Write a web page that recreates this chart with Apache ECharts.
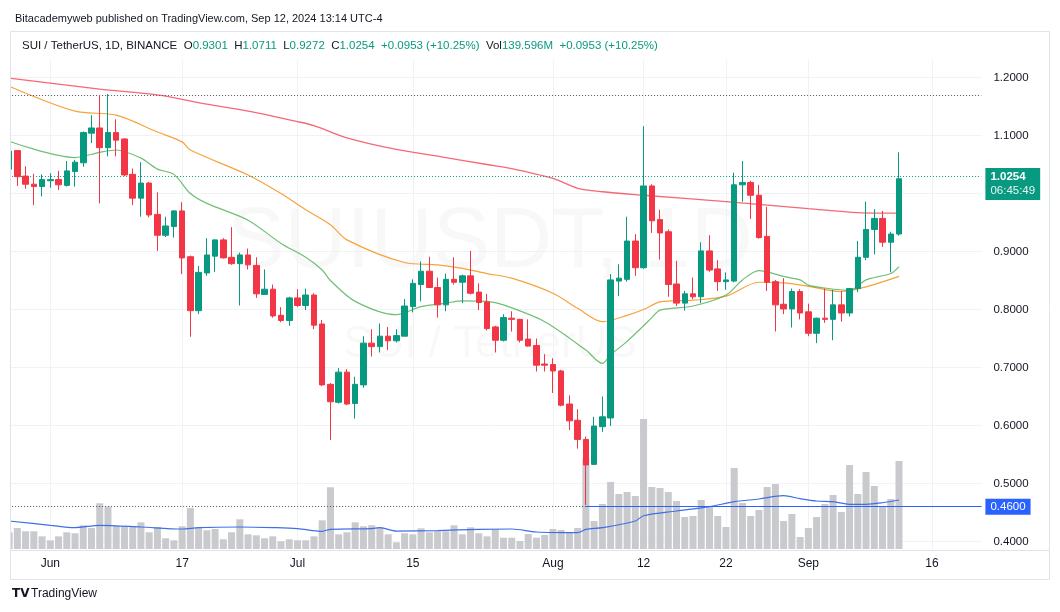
<!DOCTYPE html>
<html><head><meta charset="utf-8">
<script src="https://cdn.jsdelivr.net/npm/echarts/dist/echarts.min.js"></script>
<style>html,body{margin:0;padding:0;background:#fff}#c{width:1060px;height:612px}</style>
</head><body><div id="c"></div>
<script>
// ---------- DATA ----------
const MONTHS = ['Jan','Feb','Mar','Apr','May','Jun','Jul','Aug','Sep','Oct','Nov','Dec'];
const firstDay = Date.UTC(2024, 4, 27);   // May 27, 2024
const dayCount = 119;                     // May 27 .. Sep 22 (axis span, last candle Sep 12)
const categories = [];
for (let i = 0; i < dayCount; i++) { const d = new Date(firstDay + i * 86400000); categories.push(MONTHS[d.getUTCMonth()] + ' ' + d.getUTCDate()); }

const tickDates  = ['Jun 1','Jun 17','Jul 1','Jul 15','Aug 1','Aug 12','Aug 22','Sep 1','Sep 16'];
const tickLabels = ['Jun','17','Jul','15','Aug','12','22','Sep','16'];
const priceTicks = [0.4, 0.5, 0.6, 0.7, 0.8, 0.9, 1.0, 1.1, 1.2];

const opens = [
 1.042,1.074,1.030,1.016,1.012,1.022,1.024,1.014,1.038,1.053,
 1.104,1.113,1.079,1.105,1.094,1.033,0.992,1.018,0.964,0.928,
 0.943,0.970,0.891,0.798,0.863,0.892,0.920,0.890,0.879,0.894,
 0.876,0.826,0.835,0.790,0.781,0.820,0.807,0.825,0.775,0.671,
 0.640,0.692,0.638,0.670,0.742,0.736,0.754,0.746,0.754,0.805,
 0.843,0.866,0.838,0.808,0.852,0.847,0.858,0.830,0.813,0.770,
 0.747,0.785,0.783,0.749,0.738,0.706,0.705,0.694,0.637,0.609,
 0.576,0.533,0.598,0.613,0.849,0.852,0.918,0.872,1.013,0.955,
 0.934,0.844,0.811,0.827,0.822,0.901,0.870,0.848,0.849,1.015,
 1.019,0.997,0.926,0.848,0.809,0.801,0.831,0.796,0.759,0.785,
 0.783,0.808,0.794,0.836,0.890,0.938,0.957,0.916,0.9301];
const closes = [
 1.073,1.029,1.016,1.012,1.024,1.024,1.015,1.039,1.054,1.105,
 1.113,1.079,1.105,1.092,1.032,0.992,1.018,0.963,0.928,0.944,
 0.970,0.889,0.798,0.864,0.894,0.920,0.889,0.879,0.894,0.877,
 0.827,0.835,0.789,0.781,0.820,0.807,0.825,0.773,0.670,0.641,
 0.692,0.637,0.671,0.742,0.736,0.754,0.746,0.755,0.806,0.845,
 0.866,0.838,0.808,0.852,0.847,0.858,0.828,0.812,0.767,0.747,
 0.786,0.783,0.747,0.737,0.704,0.704,0.694,0.635,0.608,0.576,
 0.532,0.599,0.615,0.851,0.854,0.918,0.872,1.013,0.953,0.932,
 0.843,0.811,0.827,0.822,0.901,0.868,0.848,0.851,1.015,1.019,
 0.997,0.924,0.847,0.808,0.801,0.831,0.794,0.759,0.785,0.783,
 0.808,0.794,0.836,0.890,0.938,0.957,0.916,0.9301,1.0254];
const lows = [
 1.038,1.013,1.008,0.980,0.995,1.010,1.006,1.012,1.012,1.046,
 1.087,0.983,1.064,1.064,1.030,0.980,0.960,0.959,0.901,0.925,
 0.924,0.861,0.753,0.792,0.858,0.865,0.888,0.877,0.807,0.869,
 0.820,0.825,0.786,0.778,0.772,0.804,0.799,0.766,0.668,0.575,
 0.638,0.635,0.612,0.665,0.719,0.726,0.730,0.743,0.754,0.795,
 0.814,0.837,0.786,0.797,0.843,0.811,0.826,0.799,0.764,0.726,
 0.745,0.762,0.743,0.736,0.693,0.693,0.656,0.633,0.592,0.560,
 0.463,0.532,0.589,0.599,0.823,0.848,0.858,0.870,0.932,0.886,
 0.822,0.806,0.798,0.818,0.811,0.865,0.832,0.834,0.847,0.986,
 0.956,0.922,0.832,0.762,0.792,0.769,0.783,0.754,0.742,0.777,
 0.747,0.779,0.788,0.830,0.885,0.895,0.908,0.864,0.9272];
const highs = [
 1.078,1.075,1.047,1.034,1.033,1.035,1.039,1.056,1.058,1.107,
 1.135,1.170,1.1716,1.128,1.095,1.043,1.054,1.020,1.002,0.960,
 0.971,0.985,0.893,0.875,0.923,0.921,0.923,0.942,0.898,0.905,
 0.890,0.869,0.843,0.804,0.822,0.835,0.836,0.828,0.782,0.673,
 0.699,0.697,0.684,0.754,0.766,0.776,0.770,0.766,0.818,0.852,
 0.883,0.891,0.855,0.862,0.890,0.860,0.901,0.845,0.827,0.772,
 0.792,0.797,0.784,0.783,0.750,0.723,0.716,0.696,0.652,0.628,
 0.581,0.615,0.650,0.861,0.878,0.960,0.930,1.116,1.016,0.972,
 0.938,0.884,0.832,0.855,0.916,0.928,0.885,0.864,1.036,1.056,
 1.022,1.015,0.977,0.851,0.854,0.836,0.835,0.810,0.786,0.836,
 0.834,0.832,0.837,0.918,0.986,0.973,0.970,0.934,1.0711];
// volume, millions
const volumes = [
 26.5,33.3,28.1,28.1,20.1,13.8,20.1,26.5,24.9,37.6,
 33.3,72.5,67.1,36.5,34.9,34.9,42.3,26.5,34.9,17.0,
 13.8,36.0,65.0,33.3,29.7,31.7,15.4,26.5,47.1,23.3,
 21.7,17.0,20.1,12.2,15.4,13.8,13.8,20.1,45.5,97.9,
 23.3,26.5,42.3,36.0,37.6,34.4,23.3,10.6,24.9,23.3,
 32.8,26.5,28.1,28.1,37.6,23.3,34.4,24.9,20.1,30.9,
 17.9,17.9,12.7,23.8,17.9,22.2,31.7,30.1,25.9,33.3,
 143.9,44.4,71.4,106.3,87.2,90.4,84.1,206.2,98.3,96.7,
 90.4,76.1,50.8,52.3,77.7,66.6,52.3,34.9,128.5,73.0,
 52.3,61.9,98.3,103.1,44.4,55.5,19.0,33.3,50.8,71.4,
 85.6,58.7,133.2,87.2,122.1,99.9,68.2,79.3,139.596];

// moving averages (day index -> value)
const maRedIdx   = [0,11,18,24,29,35,37,41,47,53,58,61,66,69,72,77,87,97,103,108];
const maRedVal   = [1.199,1.180,1.170,1.154,1.142,1.124,1.117,1.096,1.076,1.062,1.050,1.043,1.026,1.009,1.003,0.997,0.986,0.974,0.967,0.966];
const maOrangeIdx = [0,8,13,18,21,22,29,33,36,39,41,48,52,55,58,61,66,69,72,75,77,79,83,87,91,94,97,101,104,108];
const maOrangeVal = [1.185,1.142,1.135,1.106,1.089,1.075,1.032,1.000,0.972,0.946,0.920,0.881,0.877,0.871,0.862,0.854,0.828,0.802,0.779,0.790,0.800,0.813,0.816,0.823,0.847,0.846,0.840,0.831,0.839,0.857];
const maGreenIdx = [0,8,11,13,16,18,20,22,24,29,33,36,38,39,42,47,50,53,55,58,60,65,70,72,73,75,77,78,79,83,87,89,91,94,96,97,99,102,104,107,108];
const maGreenVal = [1.090,1.062,1.071,1.075,1.061,1.042,1.033,1.000,0.983,0.954,0.914,0.890,0.868,0.850,0.814,0.791,0.805,0.811,0.815,0.814,0.808,0.779,0.730,0.707,0.722,0.745,0.772,0.786,0.799,0.806,0.825,0.851,0.867,0.857,0.851,0.842,0.837,0.833,0.851,0.862,0.874];
const volMaIdx = [0,5,8,11,16,21,23,28,32,35,38,39,44,45,47,52,57,61,64,69,70,72,76,77,81,85,88,91,94,96,98,100,102,104,106,108];
const volMaVal = [44.4,37.6,33.9,37.6,34.9,31.7,33.9,34.9,33.9,32.4,28.1,31.2,32.4,33.9,28.5,29.2,31.2,31.7,27.0,25.9,31.2,33.8,44.4,52.8,60.3,67.1,75.0,79.3,84.5,79.8,76.1,75.0,70.9,70.9,73.4,77.7];

const rayPrice = 0.46, rayStart = 'Aug 5';
const countdown = '06:45:49';

// ---------- BUILD ----------
const UP = '#089981', DOWN = '#f23645', TXT = '#131722', GRID = '#f0f2f5';
const FONT = '"Liberation Sans", Arial, sans-serif';
const n = opens.length;
const candleData = opens.map((o, i) => [o, closes[i], lows[i], highs[i]]);
const volData = volumes.map(v => v);
const pairs = (idx, val) => idx.map((d, k) => [categories[d], val[k]]);
const last = n - 1;
const chg = closes[last] - closes[last - 1];
const pct = chg / closes[last - 1] * 100;
const sign = v => (v >= 0 ? '+' : '') ;
const chgTxt = sign(chg) + chg.toFixed(4) + ' (' + sign(pct) + pct.toFixed(2) + '%)';
const hiAll = Math.max(...highs), loAll = Math.min(...lows);

const isTick = (i, v) => tickDates.indexOf(v) >= 0;
const left = 9.1, right = 78.6;

const chart = echarts.init(document.getElementById('c'), null, {renderer: 'canvas'});
chart.setOption({
  animation: false,
  textStyle: {fontFamily: FONT},
  title: [
    {text: 'Bitacademyweb published on TradingView.com, Sep 12, 2024 13:14 UTC-4', left: 10, top: 8,
     textStyle: {fontSize: 11, fontWeight: 'normal', color: TXT, fontFamily: FONT}},
    {text: '{d|SUI / TetherUS, 1D, BINANCE}  {d|O}{g|' + opens[last].toFixed(4) + '}  {d|H}{g|' + highs[last].toFixed(4) +
           '}  {d|L}{g|' + lows[last].toFixed(4) + '}  {d|C}{g|' + closes[last].toFixed(4) + '}  {g|' + chgTxt +
           '}  {d|Vol}{g|' + volumes[last].toFixed(3) + 'M}  {g|' + chgTxt + '}',
     left: 17, top: 35,
     textStyle: {fontSize: 11.5, fontWeight: 'normal', color: TXT, fontFamily: FONT,
       rich: {d: {color: TXT, fontSize: 11.5, fontFamily: FONT}, g: {color: UP, fontSize: 11.5, fontFamily: FONT}}}}
  ],
  graphic: [
    {type: 'text', z: 0, silent: true, style: {text: 'SUIUSDT, 1D', x: 490, y: 243, textAlign: 'center', textVerticalAlign: 'middle', align: 'center', verticalAlign: 'middle', font: '86px "Liberation Sans", Arial', fill: 'rgba(19,23,34,0.032)'}},
    {type: 'text', z: 0, silent: true, style: {text: 'SUI / TetherUS', x: 490, y: 345, textAlign: 'center', textVerticalAlign: 'middle', align: 'center', verticalAlign: 'middle', font: '44px "Liberation Sans", Arial', fill: 'rgba(19,23,34,0.032)'}},
    {type: 'rect', z: 99, silent: true, shape: {x: 0, y: 50, width: 10, height: 510}, style: {fill: '#ffffff'}},
    {type: 'rect', z: 100, silent: true, shape: {x: 10.5, y: 31.5, width: 1039, height: 548}, style: {fill: 'none', stroke: '#e0e3eb', lineWidth: 1}},
    {type: 'line', z: 100, silent: true, shape: {x1: 10.5, y1: 550.5, x2: 1049.5, y2: 550.5}, style: {stroke: '#e0e3eb', lineWidth: 1}},
    {type: 'text', z: 100, silent: true, style: {text: 'TV', x: 12, y: 594, textVerticalAlign: 'middle', verticalAlign: 'middle', font: '900 12px "DejaVu Sans", Arial', fill: TXT}},
    {type: 'text', z: 100, silent: true, style: {text: 'TradingView', x: 31, y: 594, textVerticalAlign: 'middle', verticalAlign: 'middle', font: '12px "Liberation Sans", Arial', fill: TXT}}
  ],
  grid: [
    {left: left, right: right, top: 77.5, bottom: 70.5, outerBoundsMode: 'none'},
    {left: left, right: right, top: 60, bottom: 63, outerBoundsMode: 'none'}
  ],
  xAxis: [
    {type: 'category', gridIndex: 0, data: categories, boundaryGap: false, show: false},
    {type: 'category', gridIndex: 1, data: categories, boundaryGap: false,
     axisLine: {show: false}, axisTick: {show: false},
     axisLabel: {interval: isTick, formatter: v => tickLabels[tickDates.indexOf(v)], color: TXT, fontSize: 12, margin: 9, fontFamily: FONT},
     splitLine: {show: true, interval: isTick, lineStyle: {color: GRID, width: 1}}}
  ],
  yAxis: [
    {type: 'value', gridIndex: 0, position: 'right', min: priceTicks[0], max: priceTicks[priceTicks.length - 1], interval: 0.1,
     axisLine: {show: false}, axisTick: {show: false},
     axisLabel: {formatter: v => v.toFixed(4), color: TXT, fontSize: 11.5, margin: 12, fontFamily: FONT},
     splitLine: {show: true, lineStyle: {color: GRID, width: 1}}},
    {type: 'value', gridIndex: 1, min: 0, max: 775.6, show: false, splitLine: {show: false}}
  ],
  series: [
    {type: 'bar', name: 'Volume', xAxisIndex: 1, yAxisIndex: 1, data: volData, barWidth: 7, z: 1,
     itemStyle: {color: '#c9cacd'}, silent: true},
    {type: 'line', name: 'Vol MA', xAxisIndex: 1, yAxisIndex: 1, data: pairs(volMaIdx, volMaVal), smooth: 0.3,
     symbol: 'none', z: 2, lineStyle: {color: '#3f6fe8', width: 1.2}, silent: true},
    {type: 'line', name: 'MA long', xAxisIndex: 0, yAxisIndex: 0, data: pairs(maRedIdx, maRedVal), smooth: 0.3,
     symbol: 'none', z: 3, lineStyle: {color: 'rgba(242,54,69,0.75)', width: 1.3}, silent: true},
    {type: 'line', name: 'MA mid', xAxisIndex: 0, yAxisIndex: 0, data: pairs(maOrangeIdx, maOrangeVal), smooth: 0.3,
     symbol: 'none', z: 3, lineStyle: {color: '#f7a23b', width: 1.2}, silent: true},
    {type: 'line', name: 'MA short', xAxisIndex: 0, yAxisIndex: 0, data: pairs(maGreenIdx, maGreenVal), smooth: 0.3,
     symbol: 'none', z: 3, lineStyle: {color: 'rgba(76,175,80,0.8)', width: 1.2}, silent: true},
    {type: 'candlestick', name: 'SUIUSDT', xAxisIndex: 0, yAxisIndex: 0, data: candleData, barWidth: 6, z: 5, clip: true,
     itemStyle: {color: UP, color0: DOWN, borderColor: UP, borderColor0: DOWN, borderWidth: 1},
     markLine: {silent: true, symbol: ['none', 'none'], animation: false,
       data: [
         {yAxis: hiAll, lineStyle: {type: [1, 2], color: '#50535e', width: 1}, label: {show: false}},
         {yAxis: loAll, lineStyle: {type: [1, 2], color: '#50535e', width: 1}, label: {show: false}},
         {yAxis: closes[last], lineStyle: {type: [1, 2], color: UP, width: 1},
          label: {show: true, position: 'end', distance: 4, offset: [0, 8],
            formatter: '{p|' + closes[last].toFixed(4) + '}\n{t|' + countdown + '}',
            backgroundColor: UP, padding: [2, 5, 2, 5],
            rich: {p: {color: '#fff', fontSize: 11.5, fontWeight: 'bold', lineHeight: 14, fontFamily: FONT},
                   t: {color: '#e6f5f2', fontSize: 11.5, lineHeight: 14, fontFamily: FONT}}}},
         [{coord: [rayStart, rayPrice], lineStyle: {type: 'solid', color: '#2962ff', width: 1},
           label: {show: true, position: 'end', distance: 4, formatter: rayPrice.toFixed(4),
             backgroundColor: '#2962ff', color: '#fff', fontSize: 11.5, padding: [2, 5, 2, 5], fontFamily: FONT}},
          {coord: [categories[categories.length - 1], rayPrice]}]
       ]}}
  ]
});
</script></body></html>
